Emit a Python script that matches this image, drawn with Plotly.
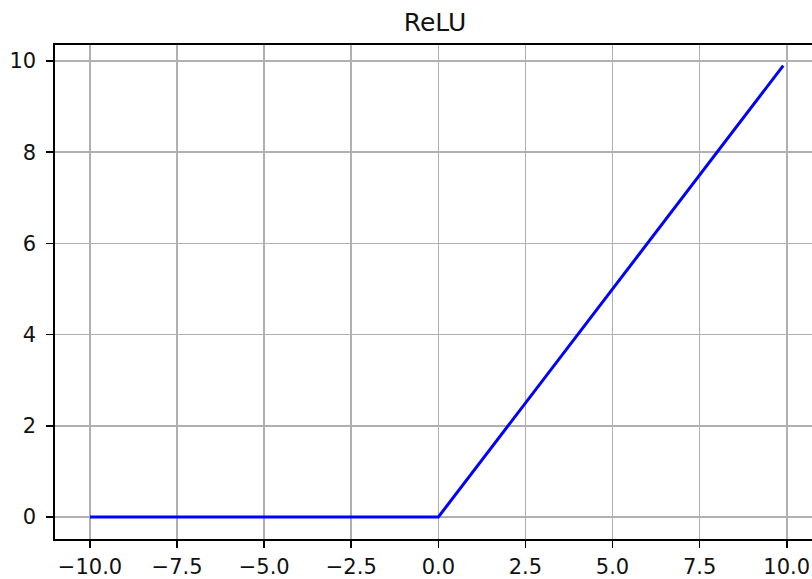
import plotly.graph_objects as go

# Data: ReLU evaluated at the sampled breakpoints
x_vals = [-10.0, 0.0, 9.9]
y_vals = [0.0, 0.0, 9.9]

x_ticks = [-10.0, -7.5, -5.0, -2.5, 0.0, 2.5, 5.0, 7.5, 10.0]
x_tick_labels = ["\u221210.0", "\u22127.5", "\u22125.0", "\u22122.5", "0.0", "2.5", "5.0", "7.5", "10.0"]
y_ticks = [0, 2, 4, 6, 8, 10]
y_tick_labels = ["0", "2", "4", "6", "8", "10"]

W, H = 812, 579
FONT = "DejaVu Sans"

fig = go.Figure()
fig.add_trace(go.Scatter(x=x_vals, y=y_vals, mode="lines",
                         line=dict(color="#0000ff", width=3), showlegend=False,
                         hoverinfo="skip"))

fig.update_layout(
    width=W, height=H,
    margin=dict(l=55, r=0, t=45, b=40, pad=0, autoexpand=False),
    paper_bgcolor="white", plot_bgcolor="white",
    font=dict(family=FONT, size=21, color="#111111"),
    title=dict(text="ReLU", font=dict(family=FONT, size=25, color="#111111"),
               xref="container", yref="container",
               x=435 / W, xanchor="center",
               y=(H - 22) / H, yanchor="middle"),
    showlegend=False,
)

fig.update_xaxes(
    range=[-11.005, 10.726], automargin=False,
    tickmode="array", tickvals=x_ticks, ticktext=x_tick_labels,
    ticks="outside", ticklen=7, tickwidth=1.6, tickcolor="black",
    ticklabelstandoff=1,
    showline=True, linecolor="black", linewidth=1.6, mirror=True,
    showgrid=True, gridcolor="#b0b0b0", gridwidth=1.6,
    zeroline=False,
    tickfont=dict(family=FONT, size=21, color="#111111"),
)
fig.update_yaxes(
    range=[-0.482, 10.351], automargin=False,
    tickmode="array", tickvals=y_ticks, ticktext=y_tick_labels,
    ticks="outside", ticklen=7, tickwidth=1.6, tickcolor="black",
    ticklabelstandoff=6,
    showline=True, linecolor="black", linewidth=1.6, mirror=False,
    showgrid=True, gridcolor="#b0b0b0", gridwidth=1.6,
    zeroline=False,
    tickfont=dict(family=FONT, size=21, color="#111111"),
)

fig.write_html("out.html", config={"displayModeBar": False, "staticPlot": True},
               post_script="document.body.style.margin='0px';document.body.style.overflow='hidden';")
